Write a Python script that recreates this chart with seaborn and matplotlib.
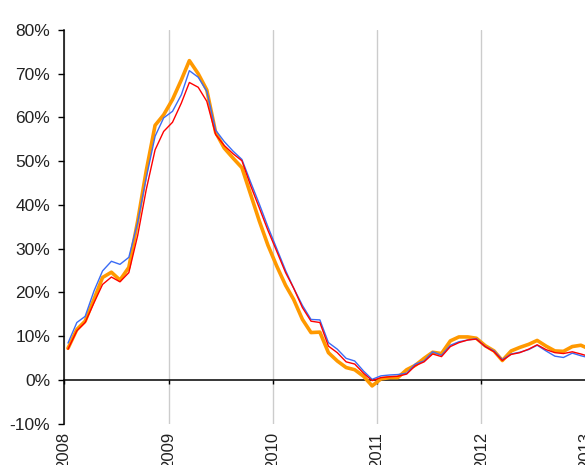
import matplotlib
matplotlib.use("Agg")
import matplotlib.pyplot as plt
import seaborn as sns
import pandas as pd

# Monthly values, Jan 2008 .. Jan 2013 (percent)
months = pd.date_range("2008-01-01", "2013-01-01", freq="MS") + pd.Timedelta(days=14)

blue_vals = [
    8.4, 13.1, 14.5, 20.3, 24.9, 27.1, 26.4, 28.0, 36.0, 46.2, 55.7, 59.9,
    61.4, 65.2, 70.7, 69.2, 66.0, 57.1, 54.5, 52.3, 50.4, 45.3, 40.2, 35.0,
    30.0, 25.0, 21.0, 17.0, 13.8, 13.7, 8.5, 7.0, 4.9, 4.3, 2.0, 0.1,
    0.9, 1.1, 1.2, 1.5, 3.6, 4.3, 6.4, 5.6, 7.9, 8.7, 9.1, 9.4,
    7.6, 6.6, 4.6, 5.9, 6.3, 6.9, 7.9, 6.6, 5.4, 5.1, 6.1, 5.5,
    5.0,
]
red_vals = [
    7.0, 11.2, 13.1, 17.6, 21.8, 23.5, 22.4, 24.5, 33.0, 43.5, 52.6, 56.8,
    58.9, 63.3, 68.0, 66.9, 63.7, 56.1, 53.6, 51.7, 50.1, 44.5, 39.3, 34.2,
    29.4, 24.5, 21.0, 16.5, 13.4, 13.1, 7.7, 6.2, 4.1, 3.6, 1.5, -0.2,
    0.5, 0.7, 0.8, 1.3, 3.2, 4.1, 5.9, 5.3, 7.6, 8.5, 9.1, 9.3,
    7.6, 6.4, 4.4, 5.8, 6.2, 7.0, 8.0, 6.9, 6.2, 6.0, 6.4, 5.9,
    5.3,
]
orange_vals = [
    7.2, 11.5, 13.4, 18.4, 23.4, 24.6, 22.8, 25.7, 36.3, 47.8, 58.2, 60.6,
    64.1, 68.6, 73.0, 70.0, 66.3, 56.6, 53.0, 50.7, 48.5, 42.5, 36.3, 30.8,
    26.0, 21.6, 18.4, 13.8, 10.8, 10.9, 6.2, 4.3, 2.8, 2.3, 0.8, -1.4,
    0.2, 0.5, 0.5, 2.3, 3.3, 4.9, 6.3, 6.0, 8.9, 9.8, 9.8, 9.5,
    7.8, 6.6, 4.4, 6.6, 7.4, 8.1, 9.0, 7.7, 6.6, 6.5, 7.6, 7.9,
    7.0,
]

y_ticks = [-10, 0, 10, 20, 30, 40, 50, 60, 70, 80]
y_tick_labels = ["-10%", "0%", "10%", "20%", "30%", "40%", "50%", "60%", "70%", "80%"]
year_ticks = ["2008", "2009", "2010", "2011", "2012", "2013"]

sns.set_style("white")
plt.rcParams["font.family"] = ["Liberation Sans", "DejaVu Sans"]

W, H = 585, 465
fig = plt.figure(figsize=(W / 100, H / 100), dpi=100)
left_px, top_px, bottom_px = 64, 30, 423.5
x0 = pd.Timestamp("2008-01-01")
x1 = pd.Timestamp("2013-03-01")
px_per_year = 104.3
width_px = (x1 - x0).days / 365.25 * px_per_year
ax = fig.add_axes([left_px / W, (H - bottom_px) / H, width_px / W, (bottom_px - top_px) / H])

df = pd.DataFrame({"date": months, "orange": orange_vals, "blue": blue_vals, "red": red_vals})

sns.lineplot(data=df, x="date", y="orange", ax=ax, color="#FF9900", linewidth=2.6, zorder=3)
sns.lineplot(data=df, x="date", y="blue", ax=ax, color="#3A6BF5", linewidth=1.0, zorder=4)
sns.lineplot(data=df, x="date", y="red", ax=ax, color="#FF0000", linewidth=1.0, zorder=5)

for s in ["top", "right"]:
    ax.spines[s].set_visible(False)
ax.spines["bottom"].set_position(("data", 0))
ax.spines["bottom"].set_color("black")
ax.spines["bottom"].set_linewidth(1.1)
ax.spines["bottom"].set_zorder(2)
ax.spines["left"].set_color("black")
ax.spines["left"].set_linewidth(1.1)

ax.set_xlim(x0, x1)
ax.set_ylim(-10, 80)
ax.set_yticks(y_ticks)
ax.set_yticklabels(y_tick_labels)
ax.set_xticks([pd.Timestamp(f"{y}-01-01") for y in year_ticks])
ax.set_xticklabels(year_ticks)
ax.set_xlabel("")
ax.set_ylabel("")

ax.grid(axis="x", color="#CCCCCC", linewidth=1.0)
ax.grid(axis="y", visible=False)
ax.set_axisbelow(True)

ax.tick_params(axis="x", direction="out", length=3, width=1, color="black",
               pad=34.5, labelsize=12, labelcolor="#222222", bottom=True,
               labelrotation=90)
ax.tick_params(axis="y", direction="out", length=4, width=1, color="black",
               pad=6, labelsize=12.5, labelcolor="#222222", left=True)

fig.savefig("out.png", dpi=100)
